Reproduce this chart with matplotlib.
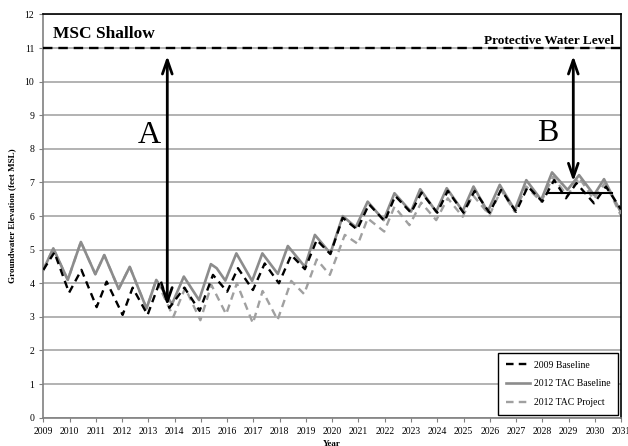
import matplotlib.pyplot as plt

# values (peaks and troughs)
base09_t = [2009.0, 2009.42, 2009.98, 2010.45, 2011.03, 2011.41, 2012.02, 2012.4, 2012.97, 2013.46,
            2013.8, 2014.37, 2014.95, 2015.46, 2016.0, 2016.41, 2016.98, 2017.43, 2017.97, 2018.44,
            2018.96, 2019.41, 2019.93, 2020.4, 2020.95, 2021.4, 2022.0, 2022.4, 2023.0, 2023.4,
            2024.0, 2024.4, 2025.0, 2025.42, 2025.99, 2026.43, 2027.0, 2027.45, 2028.0, 2028.45,
            2028.9, 2029.3, 2029.97, 2030.42, 2031.0]
base09_v = [4.4, 4.92, 3.72, 4.40, 3.29, 4.05, 3.06, 3.87, 3.06, 4.10,
            3.27, 3.87, 3.18, 4.25, 3.75, 4.45, 3.80, 4.59, 4.0, 4.84,
            4.42, 5.29, 4.87, 5.95, 5.6, 6.35, 5.85, 6.6, 6.1, 6.7,
            6.1, 6.75, 6.1, 6.75, 6.1, 6.78, 6.13, 6.88, 6.43, 7.07,
            6.53, 6.98, 6.38, 6.88, 6.2]

tac_base_t = [2009.0, 2009.38, 2009.93, 2010.43, 2010.98, 2011.32, 2011.87, 2012.29, 2012.93, 2013.3,
              2013.9, 2014.35, 2014.93, 2015.38, 2015.6, 2015.93, 2016.35, 2016.95, 2017.34, 2017.93,
              2018.31, 2018.96, 2019.34, 2019.93, 2020.4, 2020.9, 2021.35, 2021.96, 2022.37, 2023.0,
              2023.35, 2023.96, 2024.36, 2024.97, 2025.38, 2025.92, 2026.38, 2026.95, 2027.39, 2027.96,
              2028.37, 2028.96, 2029.4, 2029.97, 2030.35, 2031.0]
tac_base_v = [4.40, 5.04, 4.10, 5.23, 4.27, 4.84, 3.83, 4.49, 3.25, 4.10,
              3.38, 4.2, 3.5, 4.57, 4.45, 4.08, 4.89, 4.07, 4.89, 4.28,
              5.11, 4.49, 5.44, 4.89, 6.0, 5.67, 6.43, 5.88, 6.68, 6.13,
              6.80, 6.13, 6.83, 6.15, 6.88, 6.13, 6.93, 6.18, 7.07, 6.48,
              7.30, 6.78, 7.22, 6.63, 7.10, 6.1]

tac_proj_t = [2009.0, 2009.38, 2009.93, 2010.43, 2010.98, 2011.32, 2011.87, 2012.29, 2012.93, 2013.3,
              2013.95, 2014.4, 2014.98, 2015.4, 2015.96, 2016.37, 2016.98, 2017.35, 2017.92, 2018.44,
              2018.93, 2019.41, 2019.91, 2020.48, 2020.98, 2021.35, 2021.98, 2022.37, 2022.94, 2023.39,
              2023.96, 2024.4, 2024.97, 2025.35, 2025.99, 2026.43, 2026.95, 2027.39, 2027.96, 2028.41,
              2028.95, 2029.4, 2029.95, 2030.4, 2031.0]
tac_proj_v = [4.40, 5.04, 4.10, 5.23, 4.27, 4.84, 3.83, 4.49, 3.25, 4.10,
              3.0, 3.86, 2.9, 3.95, 3.08, 4.0, 2.81, 3.77, 2.91, 4.07,
              3.68, 4.71, 4.25, 5.44, 5.17, 5.93, 5.54, 6.28, 5.73, 6.40,
              5.88, 6.53, 5.98, 6.63, 6.03, 6.78, 6.13, 6.88, 6.43, 7.17,
              6.6, 7.15, 6.5, 7.0, 6.0]

protective_level = 11
years = list(range(2009, 2032))
arrow_a = (2013.72, 3.25, 10.85)
arrow_b = (2029.18, 6.95, 10.85)
b_floor = (2028.22, 2030.65, 6.7)

plt.rcParams['font.family'] = ['Liberation Serif', 'DejaVu Serif']

fig = plt.figure(figsize=(6.28, 4.46), dpi=100)
ax = fig.add_axes([0.069, 0.0635, 0.92, 0.904])

ax.grid(True, axis='y', color='#a6a6a6', linewidth=1.2)
ax.set_axisbelow(True)

ax.plot(tac_proj_t, tac_proj_v, color='#a0a0a0', linewidth=1.7, dashes=(3.2, 2.2),
        solid_joinstyle='round', dash_joinstyle='round', label='2012 TAC Project', zorder=2)
ax.plot(tac_base_t, tac_base_v, color='#8c8c8c', linewidth=1.9, solid_joinstyle='round',
        label='2012 TAC Baseline', zorder=3)
ax.plot(base09_t, base09_v, color='black', linewidth=1.7, dashes=(3.2, 2.2), dash_joinstyle='round',
        label='2009 Baseline', zorder=4)

ax.axhline(protective_level, color='black', linewidth=1.7, dashes=(4, 2.5), zorder=5)

# arrows
ax.annotate('', xy=(arrow_a[0], arrow_a[2]), xytext=(arrow_a[0], arrow_a[1]),
            arrowprops=dict(arrowstyle='<->,head_length=1.0,head_width=0.35', color='black', lw=2), zorder=6)
ax.annotate('', xy=(arrow_b[0], arrow_b[2]), xytext=(arrow_b[0], arrow_b[1]),
            arrowprops=dict(arrowstyle='<->,head_length=1.0,head_width=0.35', color='black', lw=2), zorder=6)
ax.plot([b_floor[0], b_floor[1]], [b_floor[2], b_floor[2]], color='black', linewidth=1.5, zorder=6)

ax.text(2013.05, 8.4, 'A', fontsize=23, ha='center', va='center')
ax.text(2028.2, 8.45, 'B', fontsize=23, ha='center', va='center')
ax.text(2009.35, 11.42, 'MSC Shallow', fontsize=12.5, fontweight='bold', ha='left', va='center')
ax.text(2030.72, 11.22, 'Protective Water Level', fontsize=9.5, fontweight='bold', ha='right', va='center')

ax.set_xlim(2009, 2031)
ax.set_ylim(0, 12)
ax.set_xticks(years)
ax.set_xticklabels([str(y) for y in years], fontsize=7)
ax.set_yticks(range(0, 13))
ax.tick_params(axis='y', labelsize=7, length=3, color='#808080')
ax.tick_params(axis='x', length=3, color='#808080')
ax.set_ylabel('Groundwater Elevation (feet MSL)', fontsize=6.5, fontweight='bold', labelpad=6)
ax.set_xlabel('Year', fontsize=6.5, fontweight='bold', labelpad=3)

ax.spines['left'].set_color('#808080')
ax.spines['bottom'].set_color('#808080')
for s in ax.spines.values():
    s.set_linewidth(1.2)

handles, labels = ax.get_legend_handles_labels()
leg = ax.legend(handles[::-1], labels[::-1], loc='lower right', fontsize=7, frameon=True, fancybox=False,
                edgecolor='black', framealpha=1, borderpad=0.8, labelspacing=1.0, handlelength=2.5,
                handletextpad=0.4, borderaxespad=0.3)
leg.get_frame().set_linewidth(1.0)

fig.savefig('out.png', dpi=100)
